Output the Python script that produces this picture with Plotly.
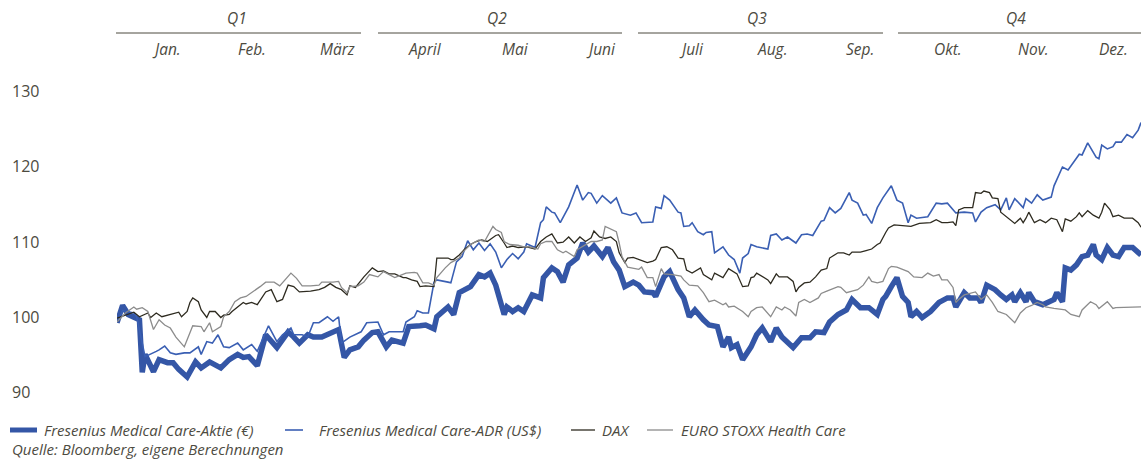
import plotly.graph_objects as go

# ---- data: (day of year, indexed value) ----
aktie = [(0,99.2),(2,101.5),(4,100.3),(6,100.0),(8,99.6),(9,92.6),(10,95.0),(13,92.7),(15,94.3),(18,93.9),(20,93.9),(22,93.0),(25,92.0),(28,94.0),(30,93.2),(33,94.0),(37,93.2),(40,94.3),(43,95.0),(45,94.6),(47,94.7),(50,93.5),(53,97.6),(57,95.9),(61,98.0),(63,97.3),(65,96.5),(68,97.6),(70,97.3),(73,97.3),(77,97.9),(79,98.3),(81,94.6),(83,95.6),(86,96.0),(88,96.9),(91,97.9),(93,98.0),(96,96.0),(98,96.9),(102,96.5),(104,98.7),(108,98.8),(110,98.9),(113,98.4),(114,100.0),(118,101.3),(120,100.3),(122,103.2),(126,104.0),(129,105.6),(131,105.3),(133,105.8),(135,104.2),(138,100.3),(139,101.3),(141,100.7),(143,101.2),(145,100.7),(148,102.9),(151,102.5),(152,105.2),(155,106.5),(157,106.0),(159,104.6),(161,106.9),(164,107.8),(166,109.8),(168,108.6),(170,109.4),(173,108.0),(175,109.2),(177,107.3),(179,106.2),(181,104.0),(184,104.6),(186,104.2),(188,103.3),(191,103.2),(192,102.7),(195,105.3),(197,106.0),(200,103.6),(202,102.5),(204,100.0),(206,100.9),(209,99.6),(211,98.9),(214,98.7),(216,96.0),(218,97.3),(219,95.9),(221,96.3),(223,94.3),(226,96.0),(228,97.6),(230,98.5),(233,96.7),(235,98.5),(237,97.3),(241,95.9),(244,97.2),(247,97.2),(249,98.0),(252,97.9),(254,99.3),(257,100.3),(260,100.9),(262,102.3),(265,101.2),(268,101.2),(271,100.3),(273,102.3),(274,102.7),(276,104.0),(278,105.2),(280,102.7),(282,101.9),(283,100.0),(285,100.7),(287,99.9),(290,100.7),(293,101.9),(296,102.5),(298,102.5),(299,101.3),(302,103.2),(304,102.5),(307,102.5),(308,101.9),(310,104.2),(313,103.6),(315,102.9),(317,102.3),(319,102.9),(320,102.0),(322,103.2),(324,102.0),(325,103.2),(327,102.0),(330,101.6),(334,102.3),(335,103.2),(337,102.0),(338,106.5),(340,106.2),(342,106.9),(344,108.0),(346,108.2),(348,109.6),(349,108.2),(351,107.6),(353,109.2),(355,108.2),(357,108.0),(359,109.2),(362,109.2),(364,108.6),(365,108.2)]

adr = [(0,99.2),(2,100.8),(6,100.5),(7,100.0),(10,94.7),(12,95.0),(14,95.4),(15,95.6),(17,96.1),(19,95.2),(21,95.0),(24,95.2),(26,95.2),(29,96.0),(30,95.0),(32,96.7),(34,96.5),(36,97.6),(38,96.0),(40,95.9),(43,96.5),(45,95.6),(48,96.3),(50,95.4),(54,98.8),(57,96.7),(59,97.6),(62,98.5),(63,97.6),(66,97.6),(68,97.3),(70,99.2),(72,99.2),(75,100.0),(77,99.4),(79,100.0),(80,96.5),(83,97.3),(87,98.0),(89,99.2),(93,99.3),(95,97.6),(97,98.0),(102,98.0),(103,99.3),(106,100.0),(107,100.8),(109,100.5),(111,100.5),(113,104.6),(114,104.9),(118,104.6),(119,104.5),(121,107.3),(123,108.0),(125,110.1),(127,108.9),(129,109.8),(131,108.8),(133,109.7),(135,108.6),(137,106.5),(139,107.6),(141,108.4),(143,107.7),(145,108.6),(146,109.7),(149,109.2),(151,112.5),(152,112.9),(153,114.6),(155,113.9),(156,113.8),(158,112.5),(160,113.9),(161,114.6),(164,117.5),(166,115.5),(168,116.5),(169,116.4),(171,115.1),(173,116.1),(176,115.1),(178,115.8),(180,113.8),(183,113.5),(185,113.8),(187,112.5),(191,112.6),(192,114.6),(194,114.4),(195,116.1),(197,115.5),(200,113.9),(201,113.8),(202,112.0),(204,112.1),(205,112.5),(207,111.3),(209,110.9),(210,111.2),(212,111.3),(213,108.5),(216,109.3),(218,108.2),(220,107.6),(222,105.8),(223,107.8),(225,108.4),(226,109.6),(228,109.3),(232,109.0),(233,110.8),(235,111.0),(237,110.2),(239,110.6),(242,109.8),(244,110.9),(246,111.0),(248,110.8),(251,112.7),(252,112.8),(254,114.5),(256,113.8),(258,114.4),(261,116.5),(262,115.5),(264,115.1),(266,113.5),(267,113.6),(269,112.4),(271,114.5),(273,115.8),(275,116.9),(276,117.4),(278,115.5),(280,115.1),(282,112.5),(283,113.5),(285,113.1),(289,113.3),(292,115.1),(294,115.0),(296,115.1),(299,113.8),(302,113.9),(305,113.8),(306,112.6),(308,113.9),(310,114.5),(313,114.9),(315,114.2),(317,115.8),(318,114.2),(320,115.7),(323,114.5),(324,115.7),(326,115.1),(328,116.2),(330,115.5),(333,115.9),(334,117.4),(337,119.9),(339,119.5),(341,120.6),(343,121.6),(344,121.5),(346,123.1),(349,121.2),(350,121.0),(351,122.8),(353,122.3),(355,122.6),(356,123.2),(358,123.2),(360,124.2),(362,123.8),(364,124.8),(365,125.8)]

dax = [(0,99.8),(4,100.3),(6,100.6),(8,100.0),(11,100.5),(12,99.9),(14,100.5),(16,100.0),(18,100.2),(20,100.3),(22,100.6),(23,100.0),(25,100.7),(26,101.9),(27,102.5),(29,102.0),(30,100.9),(32,99.9),(33,100.7),(35,100.7),(37,99.9),(38,100.2),(40,100.3),(41,100.7),(43,101.3),(45,101.9),(46,101.7),(48,101.9),(50,101.6),(53,103.3),(55,103.6),(57,102.0),(59,102.3),(61,104.2),(63,104.0),(65,103.3),(69,103.4),(72,103.6),(74,103.9),(76,104.4),(78,103.9),(80,103.6),(82,102.9),(83,104.1),(85,103.9),(86,104.4),(88,105.3),(89,105.7),(91,106.5),(93,106.0),(95,106.1),(97,105.7),(99,105.7),(102,105.2),(103,105.2),(105,104.9),(107,104.7),(108,104.0),(110,104.1),(113,104.0),(114,107.8),(116,107.8),(118,107.8),(119,107.6),(120,107.6),(122,108.2),(124,109.0),(126,109.6),(128,110.0),(130,110.2),(132,110.0),(135,110.8),(136,110.9),(138,109.8),(139,109.2),(141,109.4),(143,109.2),(146,109.3),(149,109.0),(151,110.0),(153,110.6),(155,111.0),(157,109.8),(159,109.9),(161,110.6),(163,109.8),(165,110.6),(167,110.0),(169,110.5),(170,111.4),(172,110.6),(174,110.4),(176,110.6),(178,110.0),(179,108.5),(181,107.2),(182,107.8),(184,107.9),(186,107.6),(189,107.2),(191,107.4),(192,107.6),(194,109.2),(196,109.3),(198,108.9),(200,107.8),(202,107.7),(203,106.2),(205,105.8),(207,106.2),(208,106.5),(209,105.6),(212,104.9),(213,105.8),(216,105.2),(218,106.4),(219,106.2),(221,105.7),(223,104.0),(225,104.1),(226,105.2),(227,105.3),(228,105.8),(230,105.3),(232,104.9),(233,104.4),(235,105.7),(236,105.3),(239,105.3),(241,104.7),(242,103.3),(243,103.9),(245,104.5),(247,104.6),(249,105.3),(251,106.2),(253,106.4),(254,107.8),(257,108.5),(259,108.5),(261,108.2),(262,108.6),(265,108.6),(267,108.8),(269,109.0),(271,109.6),(272,109.8),(274,111.2),(275,111.8),(277,112.2),(280,112.1),(283,112.0),(286,112.4),(290,112.5),(292,112.9),(294,112.5),(296,112.5),(298,112.6),(299,112.1),(300,114.2),(302,114.5),(305,114.5),(306,116.5),(308,116.4),(309,116.7),(311,116.5),(312,115.8),(314,115.7),(315,113.9),(317,113.3),(320,112.4),(322,113.1),(323,112.5),(324,113.1),(325,113.9),(327,112.5),(329,112.9),(331,112.5),(333,113.1),(335,112.9),(337,111.3),(338,113.0),(340,112.7),(342,113.3),(343,113.8),(344,113.3),(346,114.1),(348,113.5),(350,113.1),(351,113.9),(352,115.1),(354,114.2),(355,113.3),(357,113.5),(359,113.1),(362,113.1),(364,112.5),(365,111.9)]

stoxx = [(0,99.3),(3,100.5),(6,101.3),(7,101.0),(9,101.2),(11,100.7),(13,98.3),(15,99.6),(17,98.9),(19,98.5),(21,97.3),(24,96.0),(27,98.8),(30,98.7),(31,98.0),(33,99.2),(34,98.0),(37,98.7),(38,100.0),(40,100.7),(42,102.0),(44,102.5),(46,102.7),(48,103.2),(51,104.0),(53,104.6),(56,104.6),(58,104.1),(61,105.3),(62,105.8),(64,105.1),(66,104.1),(69,104.1),(72,104.2),(73,104.6),(77,104.6),(79,104.7),(80,103.9),(82,103.2),(83,104.0),(86,104.1),(88,104.6),(90,105.6),(93,105.3),(95,106.0),(97,105.6),(99,105.2),(101,105.5),(103,105.8),(106,105.9),(107,105.8),(109,104.5),(111,104.5),(113,104.2),(114,105.2),(117,106.5),(119,107.2),(120,107.4),(122,107.8),(123,108.5),(126,109.6),(129,110.2),(131,110.0),(134,112.0),(135,111.6),(137,111.2),(138,110.0),(140,109.6),(143,109.5),(145,109.3),(147,109.3),(150,109.0),(151,109.7),(153,110.0),(155,110.0),(157,108.9),(159,108.5),(160,108.7),(163,108.0),(164,108.9),(167,109.6),(169,110.0),(171,110.0),(173,110.2),(174,112.0),(176,111.6),(178,111.3),(179,109.8),(180,108.0),(182,106.6),(184,106.4),(186,106.3),(187,106.6),(189,105.2),(191,105.2),(192,104.0),(194,106.4),(195,105.7),(198,105.6),(201,105.4),(202,104.9),(204,104.2),(207,104.1),(209,103.2),(211,102.0),(213,102.2),(216,101.6),(217,101.8),(218,101.3),(220,101.4),(223,100.7),(225,100.0),(226,100.7),(228,101.2),(230,101.3),(232,100.5),(233,100.0),(235,101.3),(237,100.9),(238,101.3),(240,100.9),(242,100.1),(243,101.9),(245,102.3),(247,101.9),(250,102.5),(251,103.1),(253,103.4),(255,103.7),(257,104.0),(258,103.9),(260,103.2),(262,103.4),(264,103.6),(266,104.2),(268,105.3),(269,104.7),(271,104.5),(273,104.7),(275,106.4),(276,106.7),(278,106.6),(280,106.3),(282,106.0),(284,105.3),(287,105.2),(289,105.8),(291,105.4),(293,105.6),(294,104.9),(296,104.9),(298,103.9),(299,101.9),(300,102.3),(302,102.9),(304,103.1),(306,103.3),(308,102.3),(310,102.9),(312,101.9),(314,100.7),(317,100.3),(318,99.9),(320,99.2),(322,100.5),(324,101.2),(326,101.5),(328,101.9),(330,101.6),(331,101.3),(334,101.1),(337,100.9),(338,100.9),(340,100.3),(343,100.0),(344,100.9),(347,102.0),(349,101.6),(350,101.1),(353,102.0),(355,101.1),(356,101.2),(359,101.2),(362,101.3),(365,101.3)]

series_names = ["Fresenius Medical Care-Aktie (€)", "Fresenius Medical Care-ADR (US$)", "DAX", "EURO STOXX Health Care"]
quarters = ["Q1", "Q2", "Q3", "Q4"]
months = ["Jan.", "Feb.", "März", "April", "Mai", "Juni", "Juli", "Aug.", "Sep.", "Okt.", "Nov.", "Dez."]
y_ticks = [90, 100, 110, 120, 130]
source = "Quelle: Bloomberg, eigene Berechnungen"

# ---- styling (page body margin is removed in post_script) ----
W, H = 1141, 460
PLOT_L, PLOT_T, PLOT_R, PLOT_B = 117, 91, 1141, 392   # plot area in page pixels
L, T, R, B = PLOT_L, PLOT_T, W - PLOT_R, H - PLOT_B
PW, PH = PLOT_R - PLOT_L, PLOT_B - PLOT_T
TXT = "#4d4b3f"
FONT = "Open Sans"
colors = ["#3456a6", "#3a5fb3", "#2e2b20", "#8c8c8c"]
widths = [5.5, 1.6, 1.3, 1.3]

def px(p):
    return (p - PLOT_L) / PW

def py(p):
    return (PLOT_B - p) / PH

fig = go.Figure()
for data, name, c, w in zip([aktie, adr, dax, stoxx], series_names, colors, widths):
    fig.add_trace(go.Scatter(
        x=[d for d, v in data], y=[v for d, v in data], mode="lines", name=name,
        line=dict(color=c, width=w, shape="linear"), showlegend=False,
        hoverinfo="skip"))

ann = []
shapes = []
for v in y_ticks:
    ann.append(dict(x=px(10), y=v, xref="paper", yref="y", text=str(v), showarrow=False,
                    xanchor="left", yanchor="middle", font=dict(family=FONT, size=16, color=TXT)))
q_spans = [(116, 361), (378, 622), (638, 883), (898, 1141)]
q_centers = [237, 497, 757, 1016]
for q, (a, b), c in zip(quarters, q_spans, q_centers):
    shapes.append(dict(type="line", xref="paper", yref="paper", x0=px(a), x1=px(b),
                       y0=py(33), y1=py(33), line=dict(color=TXT, width=1)))
    ann.append(dict(x=px(c), y=py(18), xref="paper", yref="paper", text=q, showarrow=False,
                    xanchor="center", yanchor="middle",
                    font=dict(family=FONT, size=15.5, color=TXT, style="italic")))
m_centers = [166, 252, 337, 425, 515, 601, 691, 772, 860, 948, 1033, 1113]
for m, c in zip(months, m_centers):
    ann.append(dict(x=px(c), y=py(49), xref="paper", yref="paper", text=m, showarrow=False,
                    xanchor="center", yanchor="middle",
                    font=dict(family=FONT, size=15.5, color=TXT, style="italic")))
leg_samples = [(10, 37), (285, 303), (571, 595), (647, 673)]
leg_text_x = [42, 317, 600, 679]
for name, c, w, (a, b), tx in zip(series_names, colors, widths, leg_samples, leg_text_x):
    shapes.append(dict(type="line", xref="paper", yref="paper", x0=px(a), x1=px(b),
                       y0=py(430), y1=py(430), line=dict(color=c, width=min(w, 5))))
    ann.append(dict(x=px(tx), y=py(430), xref="paper", yref="paper", text=name, showarrow=False,
                    xanchor="left", yanchor="middle",
                    font=dict(family=FONT, size=15, color=TXT, style="italic")))
ann.append(dict(x=px(10), y=py(449), xref="paper", yref="paper", text=source, showarrow=False,
                xanchor="left", yanchor="middle",
                font=dict(family=FONT, size=15, color=TXT, style="italic")))

fig.update_layout(
    width=W, height=H, autosize=False,
    margin=dict(l=L, r=R, t=T, b=B, pad=0),
    paper_bgcolor="white", plot_bgcolor="white",
    xaxis=dict(range=[0, 365], visible=False, fixedrange=True),
    yaxis=dict(range=[90, 130], showticklabels=False, showgrid=False, zeroline=False,
               showline=False, ticks="", fixedrange=True),
    annotations=ann, shapes=shapes, showlegend=False,
)

fig.write_html("out.html",
               config={"displayModeBar": False, "staticPlot": True},
               post_script="document.body.style.margin='0';document.body.style.overflow='hidden';")
